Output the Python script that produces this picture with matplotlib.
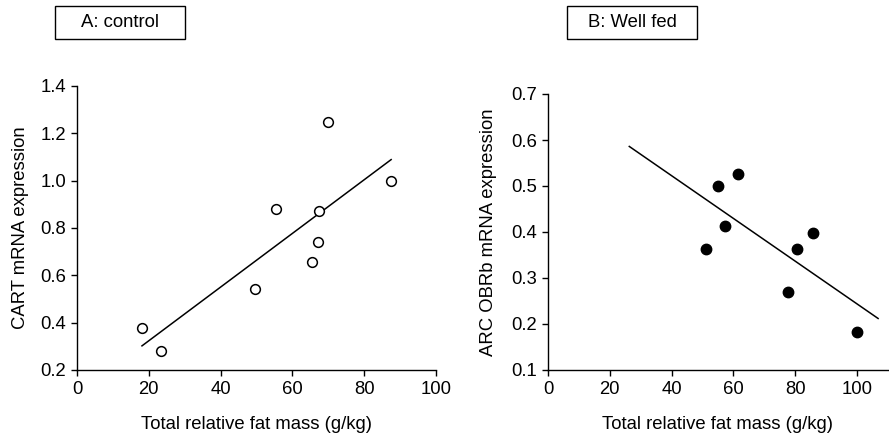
import numpy as np
import matplotlib.pyplot as plt
from matplotlib.patches import Rectangle

plt.rcParams['font.family'] = ['Liberation Sans', 'DejaVu Sans']
plt.rcParams['font.size'] = 13.3

# Panel A: control (open circles)
fatA = [18.1, 23.4, 49.6, 55.3, 65.4, 67.1, 67.3, 69.9, 87.4]
cartA = [0.376, 0.282, 0.544, 0.880, 0.656, 0.739, 0.870, 1.247, 1.000]
fitA_x = [18.1, 87.5]
fitA_y = [0.302, 1.089]

# Panel B: well fed (filled circles)
fatB = [51.2, 55.1, 57.3, 61.6, 77.8, 80.6, 85.8, 100.1]
obrbB = [0.363, 0.501, 0.413, 0.527, 0.269, 0.362, 0.398, 0.182]
fitB_x = [26.3, 106.8]
fitB_y = [0.586, 0.212]

W, H = 889, 434
fig = plt.figure(figsize=(W / 100, H / 100), dpi=100)

def style(ax):
    for s in ['top', 'right']:
        ax.spines[s].set_visible(False)
    for s in ['left', 'bottom']:
        ax.spines[s].set_linewidth(1.0)
    ax.tick_params(direction='out', length=4, width=1.0, labelsize=13.3, pad=4)

axA = fig.add_axes([77 / W, 1 - 370 / H, (436 - 77) / W, (370 - 86) / H])
axA.plot(fitA_x, fitA_y, color='black', lw=1.1)
axA.plot(fatA, cartA, 'o', ms=7, mfc='white', mec='black', mew=1.1, clip_on=False)
axA.set_xlim(0, 100)
axA.set_ylim(0.2, 1.4)
axA.set_xticks([0, 20, 40, 60, 80, 100])
axA.set_yticks(np.arange(0.2, 1.41, 0.2))
axA.set_yticklabels(['0.2', '0.4', '0.6', '0.8', '1.0', '1.2', '1.4'])
axA.set_xlabel('Total relative fat mass (g/kg)', labelpad=13)
axA.set_ylabel('CART mRNA expression', labelpad=8)
style(axA)

axB = fig.add_axes([548 / W, 1 - 370 / H, (888 - 548) / W, (370 - 94) / H])
axB.plot(fitB_x, fitB_y, color='black', lw=1.1)
axB.plot(fatB, obrbB, 'o', ms=7.5, mfc='black', mec='black', clip_on=False)
axB.set_xlim(0, 110)
axB.set_ylim(0.1, 0.7)
axB.set_xticks([0, 20, 40, 60, 80, 100])
axB.set_yticks(np.arange(0.1, 0.71, 0.1))
axB.set_yticklabels(['0.1', '0.2', '0.3', '0.4', '0.5', '0.6', '0.7'])
axB.set_xlabel('Total relative fat mass (g/kg)', labelpad=13)
axB.set_ylabel('ARC OBRb mRNA expression', labelpad=10)
style(axB)

# panel title boxes
for x0, label in [(55, 'A: control'), (567, 'B: Well fed')]:
    fig.patches.append(Rectangle((x0 / W, 1 - 39 / H), 130 / W, 33 / H,
                                 transform=fig.transFigure, fill=False,
                                 edgecolor='black', lw=1.0))
    fig.text((x0 + 65) / W, 1 - 22.5 / H, label, ha='center', va='center', fontsize=13.3)

fig.savefig('out.png', dpi=100)
